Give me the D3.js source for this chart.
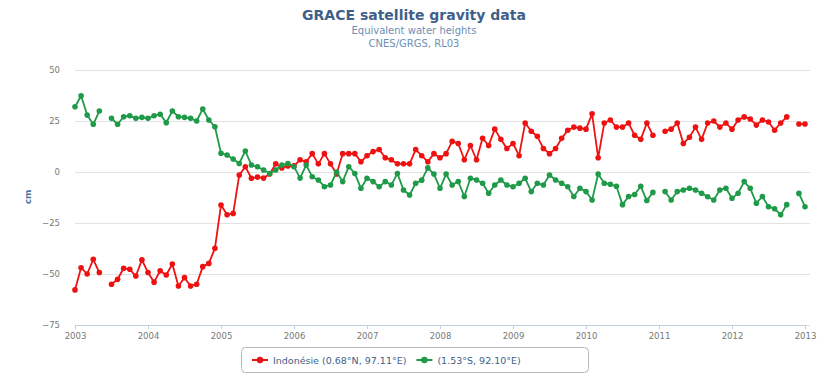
<!DOCTYPE html>
<html>
<head>
<meta charset="utf-8">
<script src="https://cdn.jsdelivr.net/npm/d3@7"></script>
<style>
  html, body { margin: 0; padding: 0; background: #fff; }
  svg { display: block; font-family: "DejaVu Sans", Verdana, sans-serif; }
</style>
</head>
<body>
<svg id="chart" width="833" height="377"></svg>
<script>
// ---- data ----
const titleText = "GRACE satellite gravity data";
const subtitleLines = ["Equivalent water heights", "CNES/GRGS, RL03"];
const yAxisTitle = "cm";
const startYear = 2003; // monthly samples from Jan 2003
const yearTicks = [2003, 2004, 2005, 2006, 2007, 2008, 2009, 2010, 2011, 2012, 2013];
const yTicks = [-75, -50, -25, 0, 25, 50];
const seriesNames = ["Indonésie (0.68°N, 97.11°E)", "(1.53°S, 92.10°E)"];
const seriesColors = ["#ee1111", "#1f9a48"];

const indonesia = [
  -57.8, -46.9, -50, -42.8, -49.3, null, -55, -52.6, -47.2, -47.7, -51, -43.1,
  -49.3, -54, -48.4, -50.5, -45.1, -55.9, -51.8, -55.9, -55, -46.4, -44.8, -37.4,
  -16.2, -21, -20.3, -1.5, 2.6, -3.1, -2.5, -3, -1, 4, 2, 3,
  3, 6, 5, 9, 4, 9, 4, -1, 9, 9, 9, 5,
  8, 10, 11, 7, 6, 4, 4, 4, 11, 8, 5, 9,
  7, 9, 15, 14, 6, 13, 6, 16.5, 13, 21, 16, 11.5,
  14, 8, 24, 20, 17.5, 11.5, 9, 11.5, 16.5, 20.5, 22, 21.5,
  21, 28.5, 7, 24, 25.5, 22, 22, 24, 18, 16, 24, 18,
  null, 20, 21, 24, 14, 17, 22, 16, 24, 25, 22, 24,
  21, 25.5, 27, 26, 23, 25.5, 24.5, 20.5, 24, 27, null, 23.5,
  23.5
];
const offshore = [
  32, 37.4, 27.9, 23.4, 29.9, null, 26.3, 23.4, 27.1, 27.6, 26.3, 26.8,
  26.3, 27.6, 28.3, 24.2, 29.9, 27.1, 26.8, 26.3, 25, 30.9, 25.5, 22.2,
  9.2, 8.3, 6.4, 4.2, 10.3, 3.4, 2.6, 1, -0.7, 1, 3.4, 4.2,
  2.6, -3, 3.4, -2.3, -3.9, -7.2, -6.4, 0, -4.7, 2.6, -0.7, -8,
  -3.1, -4.7, -7.2, -4.7, -6.4, -0.7, -8.8, -11.3, -5.5, -4, 2, -1,
  -8, -1, -6.4, -4.7, -12, -3.1, -3.9, -5.5, -10.4, -6.4, -3.9, -6.4,
  -7.2, -5.5, -3.1, -9.6, -5.5, -6.4, -1.5, -3.9, -5.5, -7.2, -12, -8,
  -9.6, -13.7, -1, -5.5, -6, -7, -16, -12, -11, -7, -14, -10,
  null, -9.6, -13.7, -9.6, -8.8, -8, -8.8, -10.4, -12.1, -13.7, -8.8, -8,
  -12.9, -10.4, -4.7, -8, -15.3, -12, -17, -18, -21, -16, null, -10.5,
  -17
];

// ---- layout ----
const svg = d3.select("#chart");
const plot = { left: 75, right: 805, top: 70, bottom: 325 };

const x = d3.scaleLinear().domain([2003, 2013]).range([plot.left, plot.right]);
const y = d3.scaleLinear().domain([-75, 50]).range([plot.bottom, plot.top]);

const toPoints = arr => arr.map((v, i) => ({ t: startYear + i / 12, v }));
const series = [indonesia, offshore].map((arr, k) => ({
  name: seriesNames[k], color: seriesColors[k], pts: toPoints(arr)
}));

// title
svg.append("text").attr("x", 414).attr("y", 20).attr("text-anchor", "middle")
  .attr("font-size", 14).attr("font-weight", "bold").attr("fill", "#3e5f8a")
  .text(titleText);
subtitleLines.forEach((s, i) => {
  svg.append("text").attr("x", 414).attr("y", 34 + i * 13).attr("text-anchor", "middle")
    .attr("font-size", 10).attr("fill", "#6d8fb5").text(s);
});

// grid lines
const yAxisG = svg.append("g").attr("transform", `translate(${plot.left},0)`)
  .call(d3.axisLeft(y).tickValues(yTicks).tickSize(0).tickPadding(15));
yAxisG.select(".domain").remove();
yAxisG.selectAll(".tick line").attr("stroke", "#e2e2e2").attr("stroke-width", 1)
  .attr("x1", 0).attr("x2", plot.right - plot.left + 5);
yAxisG.selectAll(".tick text").attr("fill", "#777").attr("font-size", 8.5)
  .attr("font-family", "DejaVu Sans, sans-serif");

// x axis
const xAxisG = svg.append("g").attr("transform", `translate(0,${plot.bottom})`)
  .call(d3.axisBottom(x).tickValues(yearTicks).tickFormat(d3.format("d")).tickSize(4).tickPadding(4));
xAxisG.select(".domain").attr("stroke", "#c0d0e0");
xAxisG.selectAll(".tick line").attr("stroke", "#c0d0e0");
xAxisG.selectAll(".tick text").attr("fill", "#777").attr("font-size", 8.5)
  .attr("font-family", "DejaVu Sans, sans-serif");

// y axis title
svg.append("text").attr("transform", `translate(31,197) rotate(-90)`)
  .attr("text-anchor", "middle").attr("font-size", 9).attr("font-weight", "bold")
  .attr("fill", "#4d759e").text(yAxisTitle);

// series
const line = d3.line().defined(d => d.v != null).x(d => x(d.t)).y(d => y(d.v));
series.forEach(s => {
  const g = svg.append("g");
  g.append("path").datum(s.pts).attr("d", line).attr("fill", "none")
    .attr("stroke", s.color).attr("stroke-width", 1.8).attr("stroke-linejoin", "round");
  g.selectAll("circle").data(s.pts.filter(d => d.v != null)).enter().append("circle")
    .attr("cx", d => x(d.t)).attr("cy", d => y(d.v)).attr("r", 2.8).attr("fill", s.color);
});

// legend
const legend = svg.append("g");
legend.append("rect").attr("x", 241.5).attr("y", 347.5).attr("width", 347).attr("height", 25)
  .attr("rx", 4).attr("fill", "#fff").attr("stroke", "#b8b8b8").attr("stroke-width", 1);
const items = legend.selectAll("g.item").data(series).enter().append("g").attr("class", "item");
let lx = 252;
items.each(function (s) {
  const g = d3.select(this);
  g.append("line").attr("x1", lx).attr("x2", lx + 16).attr("y1", 360).attr("y2", 360)
    .attr("stroke", s.color).attr("stroke-width", 2);
  g.append("circle").attr("cx", lx + 8).attr("cy", 360).attr("r", 3.2).attr("fill", s.color);
  const t = g.append("text").attr("x", lx + 21).attr("y", 363.5).attr("font-size", 9.5)
    .attr("fill", "#3e5f8a").text(s.name);
  lx += 21 + t.node().getComputedTextLength() + 10;
});
</script>
</body>
</html>
